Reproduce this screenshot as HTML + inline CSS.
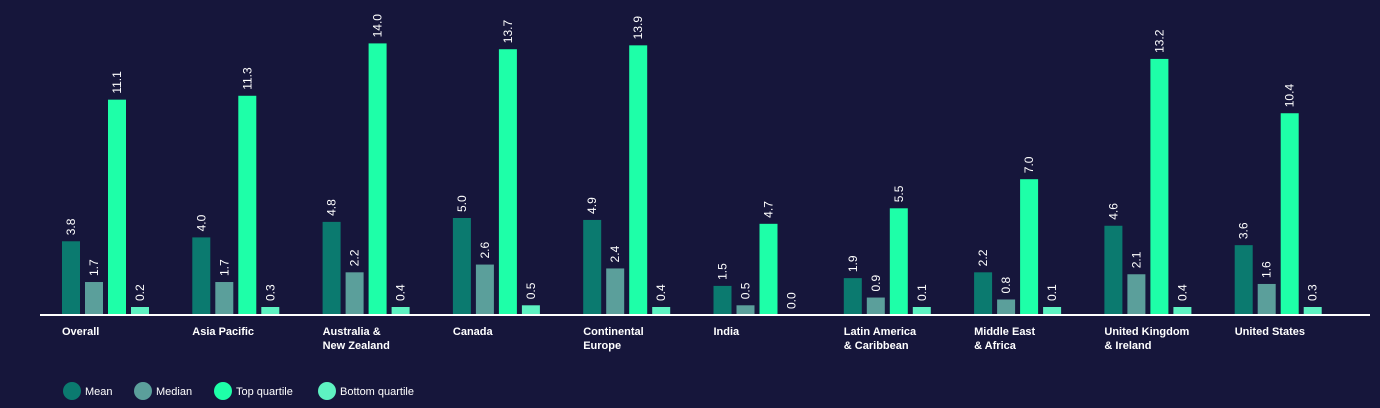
<!DOCTYPE html>
<html><head><meta charset="utf-8"><style>
body{margin:0;background:#16163b;}
svg{display:block;font-family:"Liberation Sans",sans-serif;}
</style></head><body>
<svg width="1380" height="408">
<rect width="1380" height="408" fill="#16163b"/>
<g id="bars"></g>
<line x1="40" x2="1370" y1="315" y2="315" stroke="#ffffff" stroke-width="2"/>
<g id="cats"></g>
<g id="legend"></g>
</svg>
<script>
const categories=[["Overall"],["Asia Pacific"],["Australia &","New Zealand"],["Canada"],["Continental","Europe"],["India"],["Latin America","& Caribbean"],["Middle East","& Africa"],["United Kingdom","& Ireland"],["United States"]];
const meanVals=[3.8,4.0,4.8,5.0,4.9,1.5,1.9,2.2,4.6,3.6];
const medianVals=[1.7,1.7,2.2,2.6,2.4,0.5,0.9,0.8,2.1,1.6];
const topVals=[11.1,11.3,14.0,13.7,13.9,4.7,5.5,7.0,13.2,10.4];
const bottomVals=[0.2,0.3,0.4,0.5,0.4,0.0,0.1,0.1,0.4,0.3];
const seriesNames=["Mean","Median","Top quartile","Bottom quartile"];
const colors=["#0b7a6f","#5b9f9b","#1effa8","#5ef2c2"];
const NS="http://www.w3.org/2000/svg";
const base=315,k=19.4,x0=62,groupStep=130.3,barStep=23,bw=18;
const yH=v=>v<=0?0:Math.max(v*k,8);
const all=[meanVals,medianVals,topVals,bottomVals];
const gb=document.getElementById('bars');
all.forEach((arr,s)=>{arr.forEach((v,i)=>{
 const x=x0+i*groupStep+s*barStep,h=yH(v);
 const r=document.createElementNS(NS,'rect');
 r.setAttribute('x',x);r.setAttribute('y',base-h);r.setAttribute('width',bw);r.setAttribute('height',h);r.setAttribute('fill',colors[s]);
 
 
 gb.appendChild(r);
 const t=document.createElementNS(NS,'text');
 const tx=x+bw/2+4,ty=base-h-6;
 t.setAttribute('transform','translate('+tx+','+ty+') rotate(-90)');
 t.setAttribute('fill','#ffffff');t.setAttribute('font-size','12');
 t.textContent=v.toFixed(1);
 
 
 gb.appendChild(t);
});});
const gc=document.getElementById('cats');
categories.forEach((c,i)=>{
 const t=document.createElementNS(NS,'text');
 t.setAttribute('x',x0+i*groupStep);t.setAttribute('y',335);t.setAttribute('fill','#ffffff');t.setAttribute('font-size','11');t.setAttribute('font-weight','bold');
 c.forEach((line,j)=>{const ts=document.createElementNS(NS,'tspan');ts.setAttribute('x',x0+i*groupStep);ts.setAttribute('dy',j?14:0);ts.textContent=line;t.appendChild(ts);});
 
 
 gc.appendChild(t);
});
const gl=document.getElementById('legend');
const lx=[72,143,223,327];
seriesNames.forEach((n,s)=>{
 const g=document.createElementNS(NS,'g');
 
 
 const c=document.createElementNS(NS,'circle');c.setAttribute('cx',lx[s]);c.setAttribute('cy',391);c.setAttribute('r',9);c.setAttribute('fill',colors[s]);
 const t=document.createElementNS(NS,'text');t.setAttribute('x',lx[s]+13);t.setAttribute('y',395);t.setAttribute('fill','#ffffff');t.setAttribute('font-size','11');t.textContent=n;
 g.appendChild(c);g.appendChild(t);gl.appendChild(g);
});
</script>
</body></html>
